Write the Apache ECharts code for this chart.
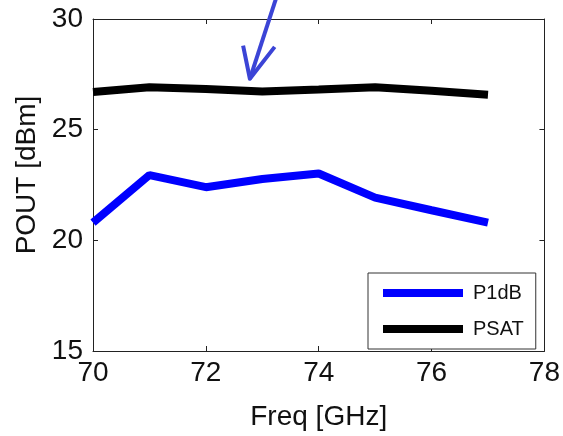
<!DOCTYPE html>
<html><head><meta charset="utf-8">
<script src="https://cdn.jsdelivr.net/npm/echarts@6/dist/echarts.min.js"></script>
<style>html,body{margin:0;padding:0;background:#fff}#c{width:563px;height:436px}</style>
</head><body><div id="c"></div>
<script>
const freq = [70, 71, 72, 73, 74, 75, 76, 77];
const p1dB = [20.8, 22.95, 22.4, 22.77, 23.02, 21.93, 21.36, 20.8];
const psat = [26.7, 26.92, 26.84, 26.72, 26.81, 26.92, 26.76, 26.58];
const xTicks = [70, 72, 74, 76, 78];
const yTicks = [15, 20, 25, 30];
// annotation arrow, in data coordinates: shaft start, tip, left wing, right wing
const arrowShaft = [[73.24, 30.9], [72.78, 27.3]];
const arrowWingL = [72.66, 28.8];
const arrowWingR = [73.22, 28.74];

const FONT = 'Liberation Sans, Arial, sans-serif';
const chart = echarts.init(document.getElementById('c'), null, {renderer: 'canvas'});
const axLine = {show: true, lineStyle: {color: '#222', width: 1}};
const tickIn = {show: true, inside: true, length: 5, lineStyle: {color: '#222'}};
chart.setOption({
  animation: false,
  grid: {left: 93, top: 19, right: 17, bottom: 79, show: false},
  legend: {
    left: 368, top: 273,
    orient: 'vertical',
    padding: [10, 12, 10, 15],
    itemGap: 16,
    itemWidth: 80, itemHeight: 8,
    icon: 'rect',
    borderColor: '#333', borderWidth: 1,
    backgroundColor: '#fff',
    textStyle: {fontFamily: FONT, fontSize: 20, color: '#111', padding: [0, 0, 0, 5]},
    data: ['P1dB', 'PSAT']
  },
  xAxis: [{
    type: 'value', min: xTicks[0], max: xTicks[xTicks.length - 1], interval: 2,
    name: 'Freq [GHz]', nameLocation: 'middle', nameGap: 52,
    nameTextStyle: {fontFamily: FONT, fontSize: 28, color: '#111'},
    axisLine: axLine, axisTick: tickIn, splitLine: {show: false},
    axisLabel: {fontFamily: FONT, fontSize: 28, color: '#111', margin: 8}
  }, {
    type: 'value', position: 'top', min: xTicks[0], max: xTicks[xTicks.length - 1], interval: 2,
    axisLine: axLine, axisTick: tickIn, axisLabel: {show: false}, splitLine: {show: false}
  }],
  yAxis: [{
    type: 'value', min: yTicks[0], max: yTicks[yTicks.length - 1], interval: 5,
    name: 'POUT [dBm]', nameLocation: 'middle', nameGap: 50,
    nameTextStyle: {fontFamily: FONT, fontSize: 28, color: '#111', padding: [0, 0, 0, 20]},
    axisLine: axLine, axisTick: tickIn, splitLine: {show: false},
    axisLabel: {fontFamily: FONT, fontSize: 28, color: '#111', margin: 10}
  }, {
    type: 'value', position: 'right', min: yTicks[0], max: yTicks[yTicks.length - 1], interval: 5,
    axisLine: axLine, axisTick: tickIn, axisLabel: {show: false}, splitLine: {show: false}
  }],
  series: [{
    name: 'P1dB', type: 'line', data: freq.map((f, i) => [f, p1dB[i]]),
    showSymbol: false, symbol: 'none', color: '#0000ff',
    lineStyle: {color: '#0000ff', width: 8}
  }, {
    name: 'PSAT', type: 'line', data: freq.map((f, i) => [f, psat[i]]),
    showSymbol: false, symbol: 'none', color: '#000000',
    lineStyle: {color: '#000000', width: 8}
  }]
});
const px = p => chart.convertToPixel({gridIndex: 0}, p);
const tip = px(arrowShaft[1]);
chart.setOption({
  graphic: [{
    type: 'polyline', z: 100,
    shape: {points: [px(arrowShaft[0]), tip]},
    style: {stroke: '#3b44d6', lineWidth: 4, fill: null}
  }, {
    type: 'polyline', z: 100,
    shape: {points: [px(arrowWingL), tip, px(arrowWingR)]},
    style: {stroke: '#3b44d6', lineWidth: 4, fill: null, lineJoin: 'round'}
  }]
});
</script></body></html>
